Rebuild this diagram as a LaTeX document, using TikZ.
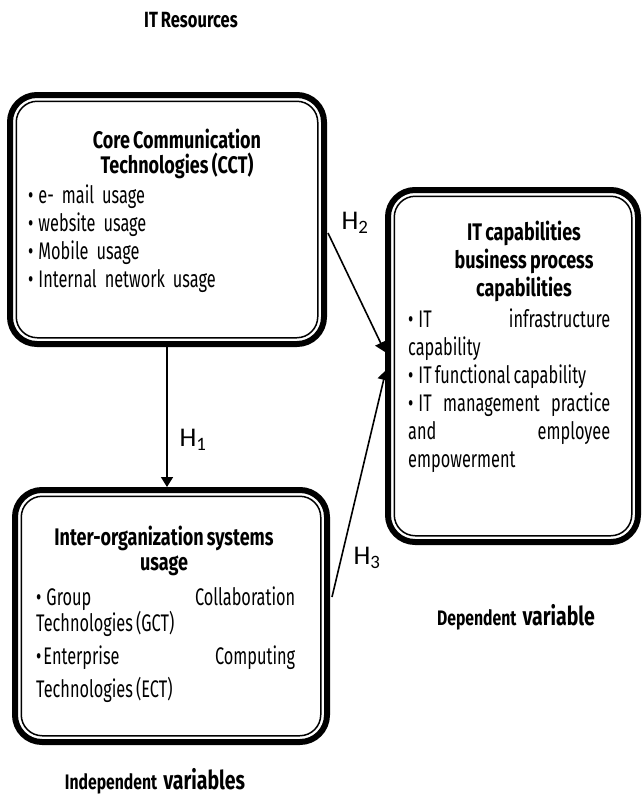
\documentclass[tikz,border=0pt]{standalone}
\usepackage{fontspec}
\setmainfont{Fira Sans}[FakeStretch=0.68,WordSpace=0.75,BoldFeatures={FakeStretch=0.75}]
\newfontfamily\hfont{Carlito}
\usetikzlibrary{arrows.meta,calc}

\tikzset{
  varbox/.style={draw, line width=6pt, rounded corners=27pt, outer sep=0pt, inner sep=0pt},
  innerline/.style={line width=1.5pt, rounded corners=21pt},
  boxtitle/.style={font=\bfseries\fontsize{24}{28}\selectfont, align=center, inner sep=0pt, anchor=base},
  boxlist/.style={font=\fontsize{24}{28}\selectfont, inner sep=0pt, anchor=base west},
  hyp/.style={-{Triangle[length=10pt,width=12pt]}, line width=1.6pt},
  hlabel/.style={font=\hfont\fontsize{27}{30}\selectfont, inner sep=0pt},
  caption/.style={font=\bfseries, inner sep=0pt, anchor=base}
}

\begin{document}
\begin{tikzpicture}[x=1pt,y=-1pt]
\useasboundingbox (0,0) rectangle (644,798);

% the three variable boxes
\node[varbox, minimum width=314pt, minimum height=249pt] (cct) at (167,219.5) {};
\node[varbox, minimum width=312pt, minimum height=252pt] (ios) at (171,616) {};
\node[varbox, minimum width=250pt, minimum height=352pt] (itc) at (513,366) {};
\foreach \n in {cct,ios,itc}
  \draw[innerline] ($(\n.north west)+(6.25,6.25)$) rectangle ($(\n.south east)+(-6.25,-6.25)$);

% box texts (base = last title line)
\node[boxtitle] (ccttitle) at (177,173) {Core Communication\\[-3pt]Technologies (CCT)};
\node[boxlist, text width=250pt, align=left] (cctlist) at (28,203)
  {\textbullet\hspace{5pt}e- mail usage\\ \textbullet\hspace{5pt}website usage\\ \textbullet\hspace{5pt}Mobile usage\\ \textbullet\hspace{5pt}Internal network usage};

\node[boxtitle] (iostitle) at (164,570) {Inter-organization systems\\[-3pt]usage};
\node[boxlist, text width=259pt, align=justify] (ioslist) at (36,605)
  {{\fontsize{24}{24}\selectfont\textbullet\hspace{5pt}Group Collaboration\linebreak Technologies (GCT)\par}
   {\fontsize{24}{33}\selectfont\textbullet\hspace{2pt}Enterprise Computing\linebreak Technologies (ECT)\par}};

\node[boxtitle] (itctitle) at (524,296) {IT capabilities\\business process\\capabilities};
\node[boxlist, text width=202pt, align=justify] (itclist) at (408,327)
  {\textbullet\hspace{5pt}IT infrastructure\linebreak capability\par
   \textbullet\hspace{5pt}IT functional capability\par
   \textbullet\hspace{5pt}IT management practice\linebreak and employee\linebreak empowerment};

% hypotheses
\draw[hyp, shorten >=3pt] (cct.south) -- (cct.south |- ios.north);
\draw[hyp] ($(cct.east)+(4,13.5)$) -- ($(itc.west)+(-3,-14)$);
\draw[hyp] ($(ios.east)+(5,-19)$) -- ($(itc.west)+(-2,4)$);
\node[hlabel] (h1) at (193,440) {H\textsubscript{1}};
\node[hlabel] (h2) at (355,223) {H\textsubscript{2}};
\node[hlabel] (h3) at (367,558) {H\textsubscript{3}};

% captions
\node[caption, font=\bfseries\fontsize{22}{24}\selectfont] (itres) at (191,27) {IT Resources};
\node[caption] (depvar) at (516,625)
  {{\fontsize{21}{24}\selectfont Dependent}\hspace{6pt}{\fontsize{26}{28}\selectfont variable}};
\node[caption] (indvar) at (155,789)
  {{\fontsize{21}{24}\selectfont Independent}\hspace{6pt}{\fontsize{26}{28}\selectfont variables}};
\end{tikzpicture}
\end{document}
